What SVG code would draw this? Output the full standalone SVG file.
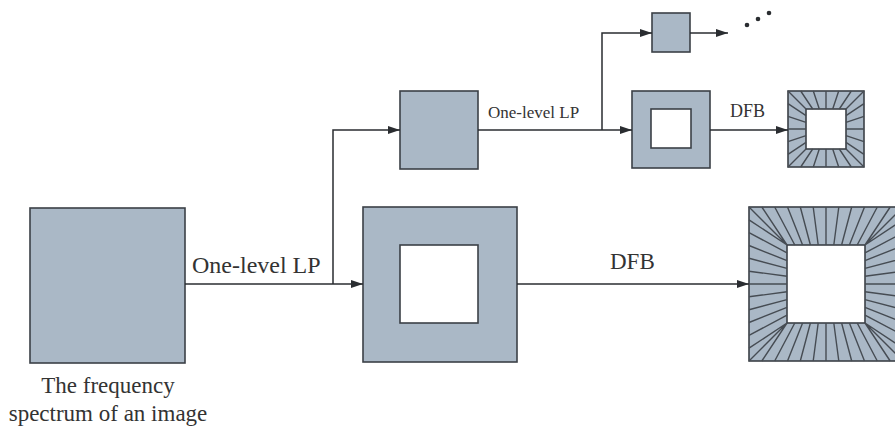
<svg xmlns="http://www.w3.org/2000/svg" width="895" height="431" viewBox="0 0 895 431">
<style>
.box{fill:#aab8c6;stroke:#3b4046;stroke-width:1.6}
.hole{fill:#ffffff;stroke:#3b4046;stroke-width:1.6}
.rays{fill:none;stroke:#464c53;stroke-width:1.4}
.conn{fill:none;stroke:#2a2d31;stroke-width:1.5}
.t{font-family:"Liberation Serif","Times New Roman",serif;fill:#333;}
</style>
<defs>
<marker id="ah" markerUnits="userSpaceOnUse" markerWidth="13" markerHeight="9" refX="12" refY="4" orient="auto">
<path d="M0,0 L12,4 L0,8 z" fill="#2a2d31"/>
</marker>
</defs>
<rect width="895" height="431" fill="#ffffff"/>

<g id="spectrum">
<rect class="box" x="30" y="208" width="155" height="155"/>
<text class="t" x="108" y="393" font-size="23" text-anchor="middle">The frequency</text>
<text class="t" x="108" y="421" font-size="23" text-anchor="middle">spectrum of an image</text>
</g>

<g id="lp1-high">
<rect class="box" x="363" y="207" width="154" height="155"/>
<rect class="hole" x="400" y="245" width="78" height="78"/>
</g>

<g id="lp1-low">
<rect class="box" x="400" y="91" width="78" height="78"/>
</g>

<g id="lp2-high">
<rect class="box" x="632" y="91" width="78" height="77"/>
<rect class="hole" x="651" y="109" width="40" height="39"/>
</g>

<g id="lp2-low">
<rect class="box" x="652" y="13" width="38" height="39"/>
</g>

<g id="dfb-small">
<rect class="box" x="788" y="91" width="76" height="76"/>
<rect class="hole" x="806" y="109" width="40" height="40"/>
<path class="rays" d="M826 109V91 M832.7 109L838.7 91 M819.3 109L813.3 91 M839.3 109L851.3 91 M812.7 109L800.7 91
M826 149V167 M832.7 149L838.7 167 M819.3 149L813.3 167 M839.3 149L851.3 167 M812.7 149L800.7 167
M806 129H788 M806 135.7L788 141.7 M806 122.3L788 116.3 M806 142.3L788 154.3 M806 115.7L788 103.7
M846 129H864 M846 135.7L864 141.7 M846 122.3L864 116.3 M846 142.3L864 154.3 M846 115.7L864 103.7
M806 109L788 91 M846 109L864 91 M806 149L788 167 M846 149L864 167"/>
</g>

<g id="dfb-large">
<rect class="box" x="749" y="207" width="154" height="154"/>
<rect class="hole" x="787" y="245" width="78" height="78"/>
<path class="rays" d="M826 245V207 M833.8 245L838.8 207 M818.2 245L813.2 207 M841.6 245L851.7 207 M810.4 245L800.3 207 M849.4 245L864.5 207 M802.6 245L787.5 207 M857.2 245L877.3 207 M794.8 245L774.7 207 M865 245L890.2 207 M787 245L761.8 207
M826 323V361 M833.8 323L838.8 361 M818.2 323L813.2 361 M841.6 323L851.7 361 M810.4 323L800.3 361 M849.4 323L864.5 361 M802.6 323L787.5 361 M857.2 323L877.3 361 M794.8 323L774.7 361 M865 323L890.2 361 M787 323L761.8 361
M787 284H749 M787 291.8L749 296.8 M787 276.2L749 271.2 M787 299.6L749 309.7 M787 268.4L749 258.3 M787 307.4L749 322.5 M787 260.6L749 245.5 M787 315.2L749 335.3 M787 252.8L749 232.7 M787 323L749 348.2 M787 245L749 219.8
M865 284H903 M865 291.8L903 296.8 M865 276.2L903 271.2 M865 299.6L903 309.7 M865 268.4L903 258.3 M865 307.4L903 322.5 M865 260.6L903 245.5 M865 315.2L903 335.3 M865 252.8L903 232.7 M865 323L903 348.2 M865 245L903 219.8
M787 245L749 207 M865 245L903 207 M787 323L749 361 M865 323L903 361"/>
</g>

<g id="connectors">
<path class="conn" d="M185 284H363" marker-end="url(#ah)"/>
<path class="conn" d="M333 284V130H400" marker-end="url(#ah)"/>
<path class="conn" d="M478 130H632" marker-end="url(#ah)"/>
<path class="conn" d="M602 130V33H652" marker-end="url(#ah)"/>
<path class="conn" d="M690 33H728" marker-end="url(#ah)"/>
<path class="conn" d="M710 130H788" marker-end="url(#ah)"/>
<path class="conn" d="M517 284H749" marker-end="url(#ah)"/>
</g>

<g id="labels">
<text class="t" x="192" y="273" font-size="24">One-level LP</text>
<text class="t" x="610" y="269" font-size="23">DFB</text>
<text class="t" x="488" y="118" font-size="17">One-level LP</text>
<text class="t" x="730" y="117" font-size="18">DFB</text>
</g>

<g id="continuation" fill="#2a2d31">
<circle cx="747" cy="25" r="2.3"/>
<circle cx="758" cy="19" r="2.3"/>
<circle cx="769" cy="13" r="2.3"/>
</g>
</svg>
